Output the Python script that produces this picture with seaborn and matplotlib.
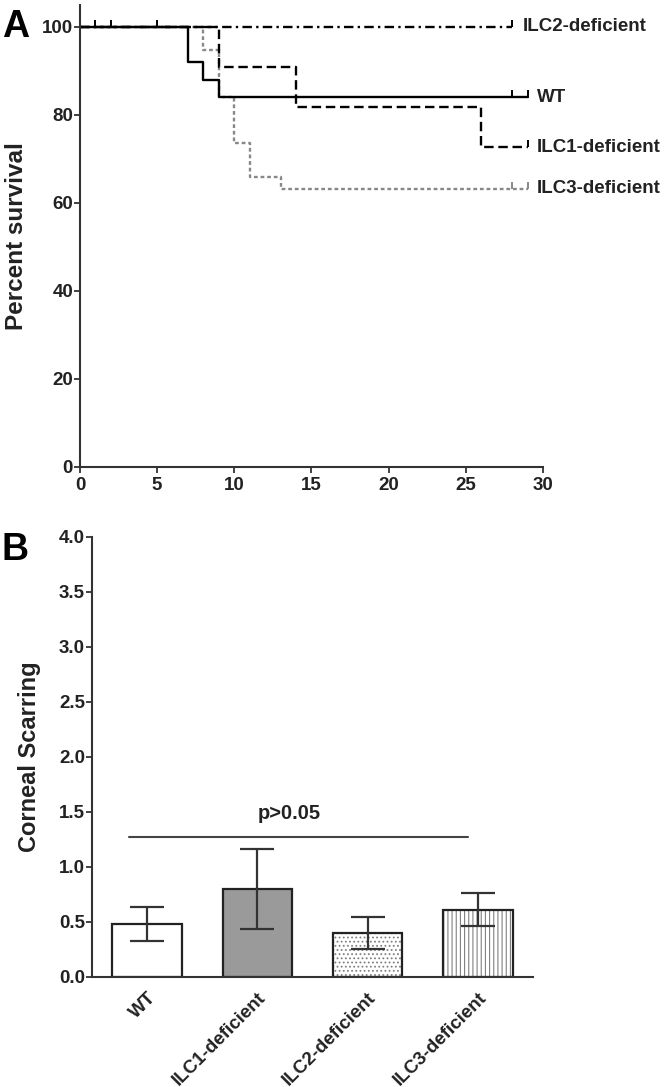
import numpy as np
import pandas as pd
import matplotlib
matplotlib.use("Agg")
import matplotlib.pyplot as plt
import seaborn as sns

# survival data (day, percent) per group
wt_days = [0, 7, 8, 9, 29]
wt_surv = [100, 92, 88, 84, 84]
ilc1_days = [0, 9, 14, 26, 29]
ilc1_surv = [100, 90.9, 81.8, 72.7, 72.7]
ilc2_days = [0, 28]
ilc2_surv = [100, 100]
ilc3_days = [0, 8, 9, 10, 11, 13, 29]
ilc3_surv = [100, 94.7, 84.2, 73.7, 65.8, 63.2, 63.2]

# censored marks
wt_cens = [28, 29]
ilc1_cens = [29]
ilc2_cens = [1, 2, 5, 28]
ilc3_cens = [28, 29]

# corneal scarring
groups = ["WT", "ILC1-deficient", "ILC2-deficient", "ILC3-deficient"]
scar_mean = [0.48, 0.80, 0.40, 0.61]
scar_err = [0.155, 0.36, 0.145, 0.15]

sns.set_style("ticks")
plt.rcParams["font.family"] = ["Liberation Sans", "DejaVu Sans"]
plt.rcParams["font.weight"] = "bold"
plt.rcParams["hatch.color"] = "#808080"
plt.rcParams["hatch.linewidth"] = 0.8
dark = "#222222"

fig = plt.figure(figsize=(6.66, 10.87), dpi=100)
ax1 = fig.add_axes([0.1201, 0.5704, 0.6952, 0.4250])
ax2 = fig.add_axes([0.1381, 0.1012, 0.6622, 0.4048])

# draw order: ILC3 under the black curves
curves = [
    ("ILC3-deficient", ilc3_days, ilc3_surv, ilc3_cens, "#888888", (0, (1.6, 1.2)), 0.6),
    ("ILC1-deficient", ilc1_days, ilc1_surv, ilc1_cens, "black", (0, (4, 2)), 0.6),
    ("WT", wt_days, wt_surv, wt_cens, "black", "-", 0.6),
    ("ILC2-deficient", ilc2_days, ilc2_surv, ilc2_cens, "black", (0, (4, 1.8, 1, 1.8)), 0.7),
]
for name, d, s, c, col, ls, gap in curves:
    df = pd.DataFrame({"day": d, "surv": s})
    sns.lineplot(data=df, x="day", y="surv", ax=ax1, drawstyle="steps-post",
                 color=col, linestyle=ls, linewidth=1.7)
    cs = [s[np.searchsorted(d, t, side="right") - 1] for t in c]
    ax1.plot(c, cs, linestyle="none", marker=2, markersize=5,
             markeredgewidth=1.4, color=col)
    ax1.text(d[-1] + gap, s[-1], name, va="center", ha="left", fontsize=13.5,
             fontweight="bold", color=dark, clip_on=False)

ax1.set_xlim(0, 30)
ax1.set_ylim(0, 105)
ax1.set_xticks([0, 5, 10, 15, 20, 25, 30])
ax1.set_yticks([0, 20, 40, 60, 80, 100])
ax1.set_xlabel("")
ax1.set_ylabel("Percent survival", fontsize=17.5, fontweight="bold",
               color=dark, labelpad=10)

# bar chart
bdf = pd.DataFrame({"group": groups, "score": scar_mean})
sns.barplot(data=bdf, x="group", y="score", ax=ax2, width=0.63,
            color="white", edgecolor=dark, linewidth=1.6, errorbar=None)
fills = ["white", "#9a9a9a", "white", "white"]
hatches = [None, None, "....", "||||"]
for p, fc, h in zip(ax2.patches, fills, hatches):
    p.set_facecolor(fc)
    if h:
        p.set_hatch(h)
        p._hatch_color = matplotlib.colors.to_rgba("#808080")
ax2.errorbar(range(len(groups)), scar_mean, yerr=scar_err, fmt="none",
             ecolor="#333333", elinewidth=1.6, capsize=12.5, capthick=1.6)
ax2.plot([-0.16, 2.91], [1.27, 1.27], color="#444444", linewidth=1.5)
ax2.text(1.29, 1.49, "p>0.05", ha="center", va="center", fontsize=14.5,
         fontweight="bold", color=dark)

ax2.set_xlim(-0.5, 3.5)
ax2.set_ylim(0, 4.0)
yt = np.arange(0, 4.01, 0.5)
ax2.set_yticks(yt)
ax2.set_yticklabels([f"{v:.1f}" for v in yt])
ax2.set_xlabel("")
ax2.set_ylabel("Corneal Scarring", fontsize=17, fontweight="bold",
               color=dark, labelpad=13)
ax2.tick_params(axis="x", length=0, pad=9)
plt.setp(ax2.get_xticklabels(), rotation=45, ha="right", va="top",
         rotation_mode="anchor", fontsize=13.5)

for ax in (ax1, ax2):
    sns.despine(ax=ax)
    for sp in ("left", "bottom"):
        ax.spines[sp].set_linewidth(1.5)
        ax.spines[sp].set_color("#333333")
    ax.tick_params(axis="y", width=1.3, length=4, color="#333333",
                   labelsize=13.5, labelcolor=dark, pad=1)
    for lab in ax.get_xticklabels() + ax.get_yticklabels():
        lab.set_fontweight("bold")
        lab.set_color(dark)
ax1.tick_params(axis="x", width=1.3, length=4, color="#333333",
                labelsize=13.5, labelcolor=dark, pad=3)

fig.text(0.003, 0.966, "A", fontsize=27, fontweight="bold", va="baseline",
         color="black")
fig.text(0.003, 0.4848, "B", fontsize=27, fontweight="bold", va="baseline",
         color="black")

fig.savefig("out.png", dpi=100)
